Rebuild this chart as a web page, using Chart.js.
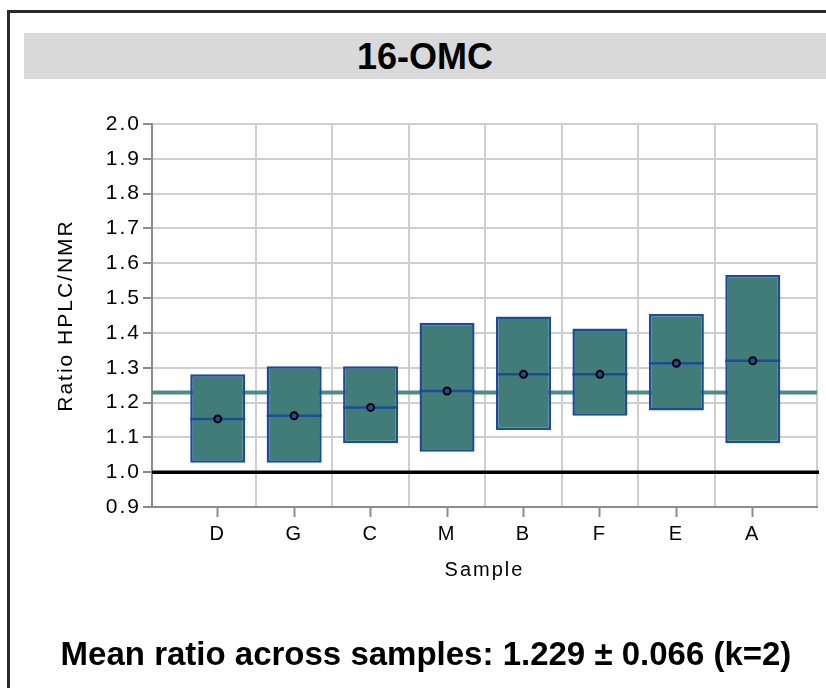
<!DOCTYPE html>
<html>
<head>
<meta charset="utf-8">
<title>16-OMC</title>
<script src="https://cdn.jsdelivr.net/npm/chart.js@4/dist/chart.umd.min.js"></script>
<style>
  html, body { margin: 0; padding: 0; background: #fff; }
  body { width: 826px; height: 688px; position: relative; overflow: hidden; font-family: 'Liberation Sans', Arial, sans-serif; }
  #frame { position: absolute; left: 7px; top: 10px; width: 900px; height: 800px; border-left: 3px solid #2b2b2b; border-top: 3px solid #2b2b2b; }
  #band { position: absolute; left: 24px; top: 33px; width: 840px; height: 46px; background: #d9d9d9; }
  #title { position: absolute; left: 24px; width: 802px; top: 39px; text-align: center; font-weight: bold; font-size: 36px; line-height: 36px; color: #000; }
  #summary { position: absolute; left: 0; width: 852px; top: 637px; text-align: center; font-weight: bold; font-size: 33px; line-height: 33px; color: #000; white-space: nowrap; }
  #chart { position: absolute; left: 0; top: 0; }
</style>
</head>
<body>
<div id="frame"></div>
<div id="band"></div>
<div id="title">16-OMC</div>
<canvas id="chart" width="826" height="688"></canvas>
<div id="summary"></div>
<script>
  // samples, in plotted order
  const samples = ['D', 'G', 'C', 'M', 'B', 'F', 'E', 'A'];
  // ratio HPLC/NMR per sample (dot + line in box)
  const ratio = [1.153, 1.162, 1.186, 1.233, 1.281, 1.281, 1.313, 1.320];
  // box limits (expanded uncertainty)
  const low = [1.027, 1.027, 1.083, 1.059, 1.121, 1.162, 1.177, 1.083];
  const high = [1.281, 1.304, 1.304, 1.429, 1.447, 1.413, 1.454, 1.566];
  // y axis tick labels
  const yTicks = [0.9, 1.0, 1.1, 1.2, 1.3, 1.4, 1.5, 1.6, 1.7, 1.8, 1.9, 2.0];
  // mean across samples and unit ratio reference
  const meanRatio = 1.229;
  const meanU = 0.066;
  const unitRatio = 1.0;

  const FONT = "'Liberation Sans', Arial, sans-serif";
  const BOX_FILL = '#417c78';
  const BOX_EDGE = '#1c4b9a';
  const AXIS_GRAY = '#8c8c8c';
  const GRID_GRAY = '#cfcfcf';
  const X_MIN = -0.86;
  const X_MAX = 7.84;

  document.getElementById('summary').textContent =
    `Mean ratio across samples: ${meanRatio.toFixed(3)} \u00b1 ${meanU.toFixed(3)} (k=2)`;

  // text in the original is drawn wide, so space the letters out a bit
  const spacedText = {
    id: 'spacedText',
    beforeDraw(chart) { chart.ctx.letterSpacing = '2px'; },
    afterDraw(chart) { chart.ctx.letterSpacing = '0px'; }
  };

  const refLines = {
    id: 'refLines',
    beforeDatasetsDraw(chart) {
      const { ctx, chartArea, scales: { y } } = chart;
      ctx.save();
      // mean ratio line
      let py = y.getPixelForValue(meanRatio);
      ctx.strokeStyle = '#4f8c87';
      ctx.lineWidth = 4;
      ctx.beginPath();
      ctx.moveTo(chartArea.left, py);
      ctx.lineTo(chartArea.right, py);
      ctx.stroke();
      // ratio = 1
      py = y.getPixelForValue(unitRatio);
      ctx.strokeStyle = '#000';
      ctx.lineWidth = 3.5;
      ctx.beginPath();
      ctx.moveTo(chartArea.left, py);
      ctx.lineTo(chartArea.right + 2, py);
      ctx.stroke();
      ctx.restore();
    },
    afterDatasetDraw(chart, args) {
      if (args.index !== 0) return;
      const { ctx, scales: { y } } = chart;
      ctx.save();
      ctx.strokeStyle = BOX_EDGE;
      ctx.lineWidth = 2.5;
      ctx.beginPath();
      args.meta.data.forEach((bar, i) => {
        const py = y.getPixelForValue(ratio[i]);
        ctx.moveTo(bar.x - bar.width / 2, py);
        ctx.lineTo(bar.x + bar.width / 2, py);
      });
      ctx.stroke();
      ctx.restore();
    }
  };

  const ctx = document.getElementById('chart').getContext('2d');
  new Chart(ctx, {
    type: 'bar',
    data: {
      datasets: [{
        type: 'bar',
        order: 2,
        xAxisID: 'x',
        yAxisID: 'y',
        data: samples.map((s, i) => ({ x: i, y: [low[i], high[i]] })),
        backgroundColor: BOX_FILL,
        borderColor: BOX_EDGE,
        borderWidth: 2.5,
        borderSkipped: false,
        barPercentage: 0.72,
        categoryPercentage: 1
      }, {
        type: 'scatter',
        order: 1,
        xAxisID: 'x',
        yAxisID: 'y',
        data: samples.map((s, i) => ({ x: i, y: ratio[i] })),
        pointStyle: 'circle',
        pointRadius: 3.5,
        pointBackgroundColor: BOX_EDGE,
        pointBorderColor: '#000',
        pointBorderWidth: 2
      }]
    },
    options: {
      responsive: false,
      animation: false,
      events: [],
      layout: { padding: { left: 52, right: 9, top: 124, bottom: 101 } },
      plugins: {
        legend: { display: false },
        tooltip: { enabled: false }
      },
      scales: {
        x: {
          type: 'linear',
          position: 'bottom',
          offset: false,
          min: X_MIN,
          max: X_MAX,
          afterBuildTicks: scale => { scale.ticks = samples.map((s, i) => ({ value: i })); },
          afterFit: scale => { scale.height = 80; },
          ticks: {
            callback: v => samples[v],
            color: '#000',
            font: { family: FONT, size: 20 },
            padding: 5,
            maxRotation: 0,
            autoSkip: false
          },
          grid: { offset: false, drawOnChartArea: false, tickLength: 10, tickColor: AXIS_GRAY, tickWidth: 2 },
          border: { color: AXIS_GRAY, width: 2 },
          title: {
            display: true,
            text: 'Sample',
            color: '#000',
            font: { family: FONT, size: 20 },
            padding: { top: 0, bottom: 5 }
          }
        },
        // category boundary grid lines
        xg: {
          type: 'linear',
          position: 'top',
          offset: false,
          min: X_MIN,
          max: X_MAX,
          afterBuildTicks: scale => {
            const t = samples.slice(1).map((s, i) => ({ value: i + 0.5 }));
            t.push({ value: scale.max });
            scale.ticks = t;
          },
          afterFit: scale => { scale.height = 0; },
          ticks: { display: false },
          grid: { offset: false, color: GRID_GRAY, lineWidth: 2, drawTicks: false },
          border: { display: false }
        },
        y: {
          type: 'linear',
          min: yTicks[0],
          max: yTicks[yTicks.length - 1],
          afterBuildTicks: scale => { scale.ticks = yTicks.map(v => ({ value: v })); },
          afterFit: scale => { scale.width = 100; },
          ticks: {
            callback: v => v.toFixed(1),
            color: '#000',
            font: { family: FONT, size: 21 },
            padding: 2
          },
          grid: { color: GRID_GRAY, lineWidth: 2, tickLength: 9, tickColor: AXIS_GRAY, tickWidth: 2 },
          border: { color: AXIS_GRAY, width: 2 },
          title: {
            display: true,
            text: 'Ratio HPLC/NMR',
            color: '#000',
            font: { family: FONT, size: 21 },
            padding: { top: 2, bottom: 0 }
          }
        }
      }
    },
    plugins: [spacedText, refLines]
  });
</script>
</body>
</html>
